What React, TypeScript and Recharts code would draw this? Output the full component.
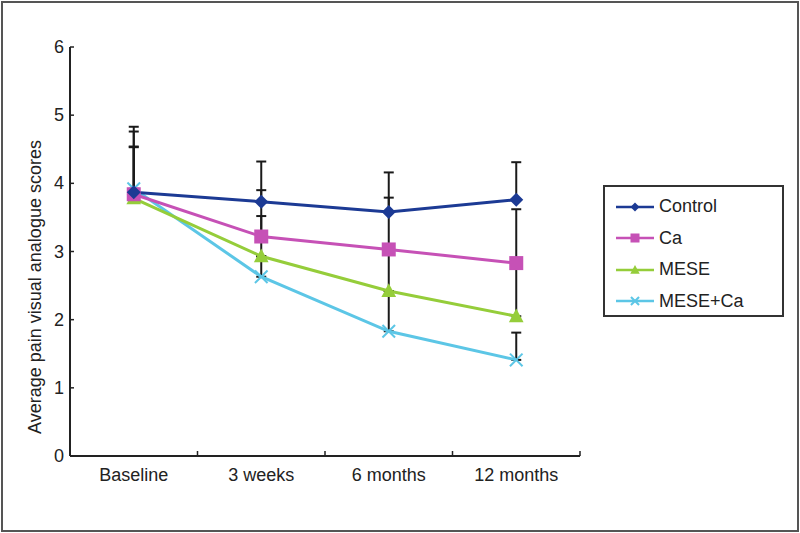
import { LineChart, Line, XAxis, YAxis, ErrorBar, Legend } from "recharts";

const categories = ["Baseline", "3 weeks", "6 months", "12 months"];
const yTicks = [0, 1, 2, 3, 4, 5, 6];

const control = [3.87, 3.73, 3.58, 3.76];
const ca = [3.84, 3.22, 3.03, 2.83];
const mese = [3.78, 2.93, 2.42, 2.05];
const meseCa = [3.92, 2.63, 1.83, 1.41];

// upper error only, as read from the caps
const controlErr = [0.66, 0.59, 0.58, 0.55];
const caErr = [0.92, 0.68, 0.76, 0.79];
const meseErr = [1.05, 0.59, 0.61, 0.78];
const meseCaErr = [0.62, 0.3, 0.59, 0.4];

type Shape = "diamond" | "square" | "triangle" | "cross";

const SERIES: { key: string; name: string; color: string; shape: Shape }[] = [
  { key: "control", name: "Control", color: "#1c3a94", shape: "diamond" },
  { key: "ca", name: "Ca", color: "#c651b6", shape: "square" },
  { key: "mese", name: "MESE", color: "#95cd3a", shape: "triangle" },
  { key: "meseCa", name: "MESE+Ca", color: "#5cc6e6", shape: "cross" },
];

const data = categories.map((cat, i) => ({
  cat,
  control: control[i],
  ca: ca[i],
  mese: mese[i],
  meseCa: meseCa[i],
  controlErr: [0, controlErr[i]],
  caErr: [0, caErr[i]],
  meseErr: [0, meseErr[i]],
  meseCaErr: [0, meseCaErr[i]],
}));

const FONT = "'Liberation Sans', Arial, sans-serif";
const INK = "#222";

function Marker({ cx, cy, shape, color, s }: { cx: number; cy: number; shape: Shape; color: string; s: number }) {
  if (cx == null || cy == null) return null;
  if (shape === "diamond")
    return <polygon points={`${cx},${cy - s} ${cx + s},${cy} ${cx},${cy + s} ${cx - s},${cy}`} fill={color} />;
  if (shape === "square") return <rect x={cx - s} y={cy - s} width={s * 2} height={s * 2} fill={color} />;
  if (shape === "triangle")
    return <polygon points={`${cx},${cy - s * 1.1} ${cx + s * 1.05},${cy + s * 0.85} ${cx - s * 1.05},${cy + s * 0.85}`} fill={color} />;
  const r = s * 0.9;
  return (
    <g stroke={color} strokeWidth={2}>
      <line x1={cx - r} y1={cy - r} x2={cx + r} y2={cy + r} />
      <line x1={cx - r} y1={cy + r} x2={cx + r} y2={cy - r} />
    </g>
  );
}

function XTick({ x, y, payload }: any) {
  const half = payload?.offset || 63.75;
  return (
    <g>
      <line x1={x + half} x2={x + half} y1={y} y2={y - 5} stroke={INK} strokeWidth={1.5} />
      <text x={x} y={y + 25} textAnchor="middle" fontSize={18} fill={INK} fontFamily={FONT}>
        {payload.value}
      </text>
    </g>
  );
}

function YTick({ x, y, payload }: any) {
  return (
    <g>
      <line x1={x + 6} x2={x + 10} y1={y} y2={y} stroke={INK} strokeWidth={1.5} />
      <text x={x} y={y} textAnchor="end" dominantBaseline="central" fontSize={18} fill={INK} fontFamily={FONT}>
        {payload.value}
      </text>
    </g>
  );
}

function YLabel() {
  return (
    <text
      x={35}
      y={287}
      transform="rotate(-90, 35, 287)"
      textAnchor="middle"
      dominantBaseline="central"
      fontSize={18}
      fill={INK}
      fontFamily={FONT}
    >
      Average pain visual analogue scores
    </text>
  );
}

function LegendBox() {
  return (
    <div style={{ width: "100%", height: "100%", border: "2px solid #333", boxSizing: "border-box", paddingTop: 4 }}>
      {SERIES.map((s) => (
        <div key={s.key} style={{ display: "flex", alignItems: "center", height: 31.5, paddingLeft: 10 }}>
          <svg width={40} height={16}>
            <line x1={1} x2={39} y1={8} y2={8} stroke={s.color} strokeWidth={2.5} />
            <Marker cx={20} cy={8} shape={s.shape} color={s.color} s={4.5} />
          </svg>
          <span style={{ marginLeft: 4, fontSize: 18, color: INK, fontFamily: FONT }}>{s.name}</span>
        </div>
      ))}
    </div>
  );
}

export default function App() {
  // drawn bottom series first so the upper markers sit on top of the error bars
  const drawOrder = [...SERIES].reverse();
  return (
    <div style={{ position: "absolute", left: 0, top: 0, width: 800, height: 533, background: "#fff" }}>
      <div
        style={{
          position: "absolute",
          left: 1,
          top: 1,
          width: 798,
          height: 531,
          border: "2px solid #555",
          boxSizing: "border-box",
        }}
      />
      <div style={{ position: "absolute", left: 0, top: 0 }}>
        <LineChart width={800} height={533} data={data} margin={{ top: 47, right: 220, bottom: 47, left: 0 }}>
          <XAxis
            dataKey="cat"
            scale="band"
            height={30}
            stroke={INK}
            strokeWidth={2}
            tickLine={false}
            tickSize={0}
            tickMargin={0}
            tick={<XTick />}
            interval={0}
          />
          <YAxis
            domain={[0, 6]}
            ticks={yTicks}
            width={70}
            stroke={INK}
            strokeWidth={2}
            tickLine={false}
            tickSize={0}
            tickMargin={6}
            tick={<YTick />}
            label={<YLabel />}
          />
          <Legend
            layout="vertical"
            align="center"
            verticalAlign="middle"
            content={<LegendBox />}
            wrapperStyle={{ left: 603, top: 185, width: 181, height: 132 }}
          />
          {drawOrder.map((s) => (
            <Line
              key={s.key}
              dataKey={s.key}
              name={s.name}
              type="linear"
              stroke={s.color}
              strokeWidth={3}
              isAnimationActive={false}
              dot={(p: any) => <Marker key={p.index} cx={p.cx} cy={p.cy} shape={s.shape} color={s.color} s={7} />}
              activeDot={false}
            >
              <ErrorBar dataKey={`${s.key}Err`} width={5} stroke="#1a1a1a" strokeWidth={2} direction="y" />
            </Line>
          ))}
        </LineChart>
      </div>
    </div>
  );
}
